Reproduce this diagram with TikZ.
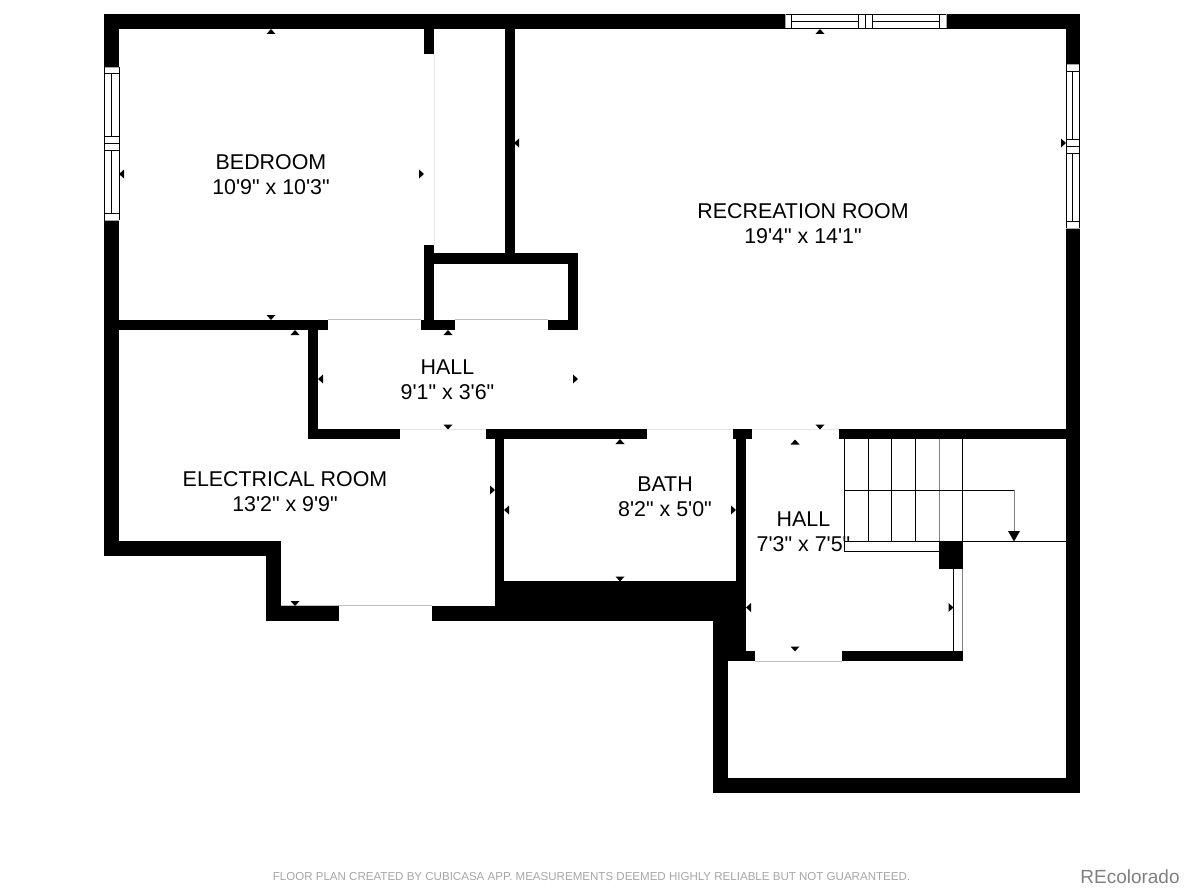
\documentclass[tikz,border=0pt]{standalone}
\usepackage{fontspec}
\newfontfamily\planfont{Liberation Sans}
\begin{document}
\begin{tikzpicture}[x=1pt,y=-1pt,
    wall/.style={fill=black},
    pane/.style={draw=black,line width=0.7pt},
    opening/.style={draw=black!25,line width=0.7pt},
    stairline/.style={draw=black,line width=0.8pt},
    sizemark/.style={fill=black,draw=none},
    roomtext/.style={font=\planfont\fontsize{21.4}{25}\selectfont,align=center,inner sep=0pt,text=black}]
    \useasboundingbox (0,0) rectangle (1195,891);

    % outer walls
    \fill[wall] (104,14) rectangle (785,29);
    \fill[wall] (946,14) rectangle (1080,29);
    \fill[wall] (104,14) rectangle (119,67);
    \fill[wall] (104,220) rectangle (119,556);
    \fill[wall] (1066,14) rectangle (1080,64);
    \fill[wall] (1066,228) rectangle (1080,793);
    \fill[wall] (713,778) rectangle (1080,793);
    \fill[wall] (713,621) rectangle (727.5,793);
    \fill[wall] (104,541) rectangle (281,556);
    \fill[wall] (266,541) rectangle (281,621);
    \fill[wall] (266,605.5) rectangle (339,621);
    \fill[wall] (432,605.5) rectangle (713,621);

    % inner walls
    \fill[wall] (424,14) rectangle (434,54);
    \fill[wall] (424,245) rectangle (434,330);
    \fill[wall] (504.5,14) rectangle (514.5,253);
    \fill[wall] (424,253) rectangle (578,264);
    \fill[wall] (568,253) rectangle (578,330);
    \fill[wall] (119,320) rectangle (328,330);
    \fill[wall] (421,320) rectangle (455,330);
    \fill[wall] (548,320) rectangle (578,330);
    \fill[wall] (308,320) rectangle (318,439);
    \fill[wall] (308,429) rectangle (400,439);
    \fill[wall] (486,429) rectangle (647,439);
    \fill[wall] (494.5,429) rectangle (504,606);
    \fill[wall] (733,429) rectangle (752,439);
    \fill[wall] (735.5,429) rectangle (746,661);
    \fill[wall] (494.5,581) rectangle (746,621);
    \fill[wall] (713,621) rectangle (746,661);
    \fill[wall] (713,651) rectangle (755,661);
    \fill[wall] (842,651) rectangle (963,661);
    \fill[wall] (839,429) rectangle (1066,439);
    \fill[wall] (939,541) rectangle (963,569);

    % openings
    \draw[opening] (328,319.5) -- (421,319.5);
    \draw[opening] (455,319.5) -- (548,319.5);
    \draw[opening] (281,605.5) -- (432,605.5);
    \draw[opening] (755,661) -- (842,661);
    \draw[opening,draw=black!10] (400,429) -- (486,429);
    \draw[opening,draw=black!10] (647,429) -- (733,429);
    \draw[opening,draw=black!10] (752,429) -- (839,429);
    \draw[opening,draw=black!10] (434,54) -- (434,245);

    % left window
    \draw[pane,draw=black!35] (104.5,67) -- (119,67) (104.5,220) -- (119,220);
    \draw[pane] (104.5,67) -- (104.5,220) (119,67) -- (119,220);
    \foreach \wy in {73.7,136.7,143.3,150,213.3}
        \draw[pane] (104.5,\wy) -- (119,\wy);
    \draw[pane] (111.5,73.7) -- (111.5,136.7) (111.5,150) -- (111.5,213.3);

    % top window
    \draw[pane] (785,14.5) -- (946,14.5) (785,28.5) -- (946,28.5);
    \foreach \wx in {791.3,858.7,865.7,872.7,939}
        \draw[pane] (\wx,14.5) -- (\wx,28.5);
    \draw[pane] (791.3,21.3) -- (858.7,21.3) (872.7,21.3) -- (939,21.3);
    \draw[pane,draw=black!35] (785,14.5) -- (785,28.5) (946,14.5) -- (946,28.5);

    % right window
    \draw[pane,draw=black!35] (1066,64) -- (1080,64) (1066,228) -- (1080,228);
    \draw[pane] (1066,64) -- (1066,228) (1079.5,64) -- (1079.5,228);
    \foreach \wy in {71.3,139.3,146,153.3,221.3}
        \draw[pane] (1066,\wy) -- (1079.5,\wy);
    \draw[pane] (1072.7,71.3) -- (1072.7,139.3) (1072.7,153.3) -- (1072.7,221.3);

    % stairs
    \foreach \sx in {844.3,868.3,891.7,915.7,962.7}
        \draw[stairline] (\sx,439) -- (\sx,541);
    \draw[stairline,draw=black!50] (939,439) -- (939,541);
    \draw[stairline] (844.3,490.3) -- (1014,490.3);
    \draw[stairline] (844.3,541) -- (1066,541);
    \draw[stairline] (844.3,541) -- (844.3,551.3) -- (939,551.3);
    \draw[stairline,draw=black!50] (1014,490.3) -- (1014,532);
    \fill[wall] (1008,531) -- (1020,531) -- (1014,541.5) -- cycle;
    \draw[stairline] (953,569) -- (953,651);
    \draw[stairline,draw=black!50] (962.7,569) -- (962.7,651);

    % size marks
    \foreach \mx/\my in {271/29,295/330,448/330,620/439,795/439.5,820/29}
        \fill[sizemark] (\mx-4.5,\my+5) -- (\mx+4.5,\my+5) -- (\mx,\my) -- cycle;
    \foreach \mx/\my in {271/320,295/606,448/429.5,620/581.5,820/429.5,795/651.5}
        \fill[sizemark] (\mx-4.5,\my-5) -- (\mx+4.5,\my-5) -- (\mx,\my) -- cycle;
    \foreach \mx/\my in {119/174,514/143,318/379,504/510,746/607.5}
        \fill[sizemark] (\mx+5,\my-4.5) -- (\mx+5,\my+4.5) -- (\mx,\my) -- cycle;
    \foreach \mx/\my in {424/174,1066/143,578/379,495/490,736/510,953.5/607.5}
        \fill[sizemark] (\mx-5,\my-4.5) -- (\mx-5,\my+4.5) -- (\mx,\my) -- cycle;

    % room names
    \node[roomtext] (bedroom) at (271,175) {BEDROOM\\10'9" x 10'3"};
    \node[roomtext] (recreation) at (803,224) {RECREATION ROOM\\19'4" x 14'1"};
    \node[roomtext] (hallone) at (447.5,380) {HALL\\9'1" x 3'6"};
    \node[roomtext] (electrical) at (285,491.5) {ELECTRICAL ROOM\\13'2" x 9'9"};
    \node[roomtext] (bath) at (665,497) {BATH\\8'2" x 5'0"};
    \node[roomtext] (halltwo) at (803.5,531.5) {HALL\\7'3" x 7'5"};

    % footer
    \node[font=\planfont\fontsize{11.55}{13}\selectfont,text=black!35,inner sep=0pt] (credit) at (591.5,877) {FLOOR PLAN CREATED BY CUBICASA APP. MEASUREMENTS DEEMED HIGHLY RELIABLE BUT NOT GUARANTEED.};
    \node[font=\planfont\fontsize{19}{20}\selectfont,text=black!50,inner sep=0pt] (brand) at (1130,877) {REcolorado};
\end{tikzpicture}
\end{document}
